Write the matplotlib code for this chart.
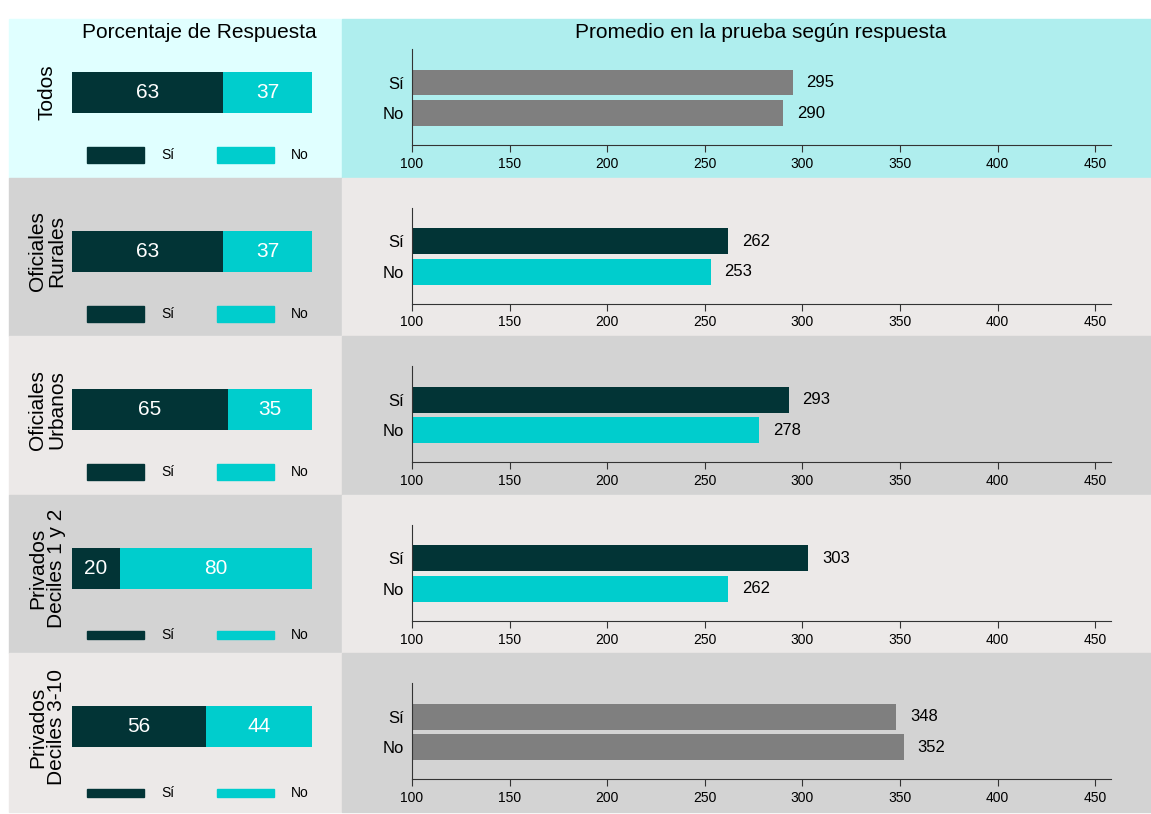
import matplotlib.pyplot as plt
from matplotlib.patches import Rectangle

plt.rcParams['font.family'] = ['Liberation Sans', 'DejaVu Sans']

groups = ["Todos", "Oficiales\nRurales", "Oficiales\nUrbanos",
          "Privados\nDeciles 1 y 2", "Privados\nDeciles 3-10"]
pct_si = [63, 63, 65, 20, 56]
pct_no = [37, 37, 35, 80, 44]
score_si = [295, 262, 293, 303, 348]
score_no = [290, 253, 278, 262, 352]
answers = ["Sí", "No"]
score_ticks = [100, 150, 200, 250, 300, 350, 400, 450]

DARK = "#023436"
CYAN = "#00CDCD"
GRAY = "#7F7F7F"
LIGHT = "#ECE9E8"
MID = "#D3D3D3"

# per-row styling: left bg, right bg, bar colours for Sí / No, legend box height
left_bg = ["#E0FFFF", MID, LIGHT, MID, LIGHT]
right_bg = ["#AFEEEE", LIGHT, MID, LIGHT, MID]
score_colors = [(GRAY, GRAY), (DARK, CYAN), (DARK, CYAN), (DARK, CYAN), (GRAY, GRAY)]
leg_h = [16, 16, 16, 8, 8]

W, H = 1151, 814
fig = plt.figure(figsize=(W / 100, H / 100), dpi=100)


def box(x0, y0, w, h):
    # pixel box (from top-left) -> figure fraction rect
    return [x0 / W, 1 - (y0 + h) / H, w / W, h / H]


top, row_h = 19, 158.6
split = 342

for i, g in enumerate(groups):
    y0 = top + i * row_h
    fig.add_artist(Rectangle(box(9, y0, split - 9, row_h)[:2], (split - 9) / W, row_h / H,
                             transform=fig.transFigure, color=left_bg[i], zorder=0))
    fig.add_artist(Rectangle(box(split, y0, W - split, row_h)[:2], (W - split) / W, row_h / H,
                             transform=fig.transFigure, color=right_bg[i], zorder=0))

    # stacked percentage bar
    ax = fig.add_axes(box(72, y0 + 53, 240, 41))
    ax.barh(0, pct_si[i], height=1, color=DARK)
    ax.barh(0, pct_no[i], left=pct_si[i], height=1, color=CYAN)
    ax.text(pct_si[i] / 2, 0, str(pct_si[i]), color="white", fontsize=15,
            ha="center", va="center")
    ax.text(pct_si[i] + pct_no[i] / 2, 0, str(pct_no[i]), color="white", fontsize=15,
            ha="center", va="center")
    ax.set_xlim(0, 100)
    ax.set_ylim(-0.5, 0.5)
    ax.axis("off")

    # group label
    yc = 1 - (y0 + 73.5) / H
    fig.text(47 / W, yc, g, rotation=90, fontsize=15, ha="center", va="center",
             multialignment="center", linespacing=1.0)

    # legend
    lh = leg_h[i]
    for (x, c, lab, tx) in [(87, DARK, "Sí", 161), (217, CYAN, "No", 291)]:
        b = box(x, y0 + 144 - lh, 57, lh)
        fig.add_artist(Rectangle(b[:2], b[2], b[3], transform=fig.transFigure, color=c))
        fig.text(tx / W, 1 - (y0 + 144 - lh / 2) / H, lab, fontsize=10,
                 ha="left", va="center")

    # average score bars
    ax2 = fig.add_axes(box(412, y0 + 30, 698.7, 96))
    ax2.set_facecolor("none")
    vals = [score_si[i], score_no[i]]
    ypos = [1, 0]
    for yv, v, c in zip(ypos, vals, score_colors[i]):
        ax2.barh(yv, v - 100, left=100, height=0.85, color=c)
        ax2.annotate(str(v), (v, yv), xytext=(10, 0), textcoords="offset points",
                     va="center", ha="left", fontsize=12)
    ax2.set_xlim(100, 458)
    ax2.set_ylim(-1.05, 2.1)
    ax2.set_yticks(ypos)
    ax2.set_yticklabels(answers, fontsize=12)
    ax2.set_xticks(score_ticks)
    ax2.tick_params(axis="x", labelsize=10, length=5, color="#333333")
    ax2.tick_params(axis="y", length=0, pad=6)
    for s in ["top", "right"]:
        ax2.spines[s].set_visible(False)
    for s in ["left", "bottom"]:
        ax2.spines[s].set_color("#333333")

fig.text(199 / W, 1 - 33 / H, "Porcentaje de Respuesta", fontsize=15,
         ha="center", va="center")
fig.text(761 / W, 1 - 33 / H, "Promedio en la prueba según respuesta", fontsize=15,
         ha="center", va="center")

fig.savefig("out.png", dpi=100)
